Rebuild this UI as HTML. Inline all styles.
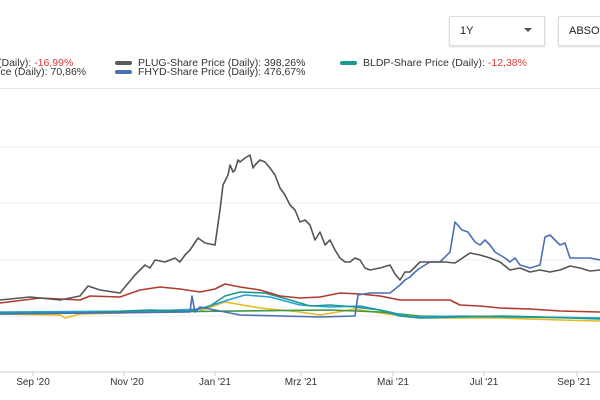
<!DOCTYPE html><html><head><style>
body{margin:0;width:600px;height:400px;overflow:hidden;background:#fff;font-family:"Liberation Sans",sans-serif;position:relative}
.t{position:absolute;font-size:10.5px;color:#333;white-space:nowrap;line-height:11px}
.r{color:#d9393a}
.sw{position:absolute;width:17px;height:4px;border-radius:2px}
.btn{position:absolute;border:1px solid #ddd;box-shadow:0 1px 2px rgba(0,0,0,.15);background:#fff;font-size:11px;color:#222}
</style></head><body>
<div class="btn" style="left:449px;top:16px;width:94px;height:28px"><span style="position:absolute;left:10px;top:8px">1Y</span><span style="position:absolute;right:12px;top:11px;border-left:4px solid transparent;border-right:4px solid transparent;border-top:4px solid #555"></span></div>
<div class="btn" style="left:558px;top:16px;width:60px;height:28px"><span style="position:absolute;left:10px;top:8px">ABSOLUT</span></div>
<div class="t" style="left:-2px;top:58px">(Daily): <span class="r">-16,99%</span></div>
<div class="t" style="left:-2px;top:67px">ice (Daily): 70,86%</div>
<div class="sw" style="left:115px;top:61px;background:#5a5a5a"></div>
<div class="t" style="left:138px;top:58px">PLUG-Share Price (Daily): 398,26%</div>
<div class="sw" style="left:115px;top:70px;background:#4a6fb5"></div>
<div class="t" style="left:138px;top:67px">FHYD-Share Price (Daily): 476,67%</div>
<div class="sw" style="left:340px;top:61px;background:#1a9a8e"></div>
<div class="t" style="left:363px;top:58px">BLDP-Share Price (Daily): <span class="r">-12,38%</span></div>
<div style="position:absolute;left:0;top:88px;width:600px;height:1px;background:#e5e5e5"></div>
<svg width="600" height="400" style="position:absolute;left:0;top:0" fill="none" stroke-linejoin="round">
<g stroke="#ececec" stroke-width="1"><line x1="0" y1="147" x2="600" y2="147"/><line x1="0" y1="203" x2="600" y2="203"/><line x1="0" y1="260" x2="600" y2="260"/><line x1="0" y1="316" x2="600" y2="316"/></g>
<line x1="0" y1="372" x2="600" y2="372" stroke="#ccc"/>
<g stroke="#ccc"><line x1="33" y1="372" x2="33" y2="376"/><line x1="124" y1="372" x2="124" y2="376"/><line x1="215" y1="372" x2="215" y2="376"/><line x1="301" y1="372" x2="301" y2="376"/><line x1="393" y1="372" x2="393" y2="376"/><line x1="484" y1="372" x2="484" y2="376"/><line x1="577" y1="372" x2="577" y2="376"/></g>
<g stroke-width="1.6">
<polyline stroke="#e8b923" points="0,314 60,315 65,318 80,314 200,311 225,302 260,308 300,312 320,315 355,309 380,313 420,318 500,318 560,320 600,321"/>
<polyline stroke="#3a9a4a" points="0,313 150,312 330,310 380,312 420,316 600,318"/>
<polyline stroke="#2a9fd6" points="0,312 150,311 200,309 228,300 245,295 270,297 300,305 330,307 360,306 390,312 410,317 460,316 600,318"/>
<polyline stroke="#1a9a8e" points="0,313 80,313 150,310 190,311 210,306 225,296 240,292 265,293 290,300 310,306 330,305 355,307 380,310 400,316 420,318 460,317 500,316 540,317 600,319"/>
<polyline stroke="#b03a2e" points="0,303 40,298 80,300 90,296 120,297 140,290 160,287 180,289 200,292 215,289 225,284 240,287 260,290 280,296 300,298 320,297 340,293 360,294 380,296 400,300 430,300 450,300 460,305 480,306 500,308 530,309 560,311 600,312"/>
<polyline stroke="#4a6fb5" points="0,314 100,313 190,312 192,296 195,312 200,307 215,310 240,315 320,317 355,316 358,295 370,293 390,293 400,285 405,280 410,277 415,272 420,268 425,265 430,262 440,262 450,252 455,222 462,230 468,232 470,235 475,242 480,245 485,240 490,245 495,252 500,255 505,258 510,262 515,258 520,265 530,268 540,265 545,237 550,235 555,240 560,245 565,243 570,258 590,258 600,260"/>
<polyline stroke="#555" points="0,300 30,297 60,300 80,296 88,286 100,290 120,293 125,287 135,275 145,265 150,268 155,260 165,262 175,258 180,262 185,255 190,250 198,238 205,243 215,245 220,210 223,185 228,175 230,165 233,172 235,170 238,160 240,162 245,158 250,155 253,168 255,165 260,160 265,162 270,168 275,175 280,188 285,195 290,205 295,210 300,222 305,220 310,225 315,240 320,232 325,245 330,240 335,250 340,258 345,262 350,262 355,258 360,260 365,268 370,270 380,268 390,265 395,274 400,280 405,272 410,272 420,262 430,262 445,262 455,263 470,253 480,255 490,258 500,262 510,270 520,268 530,272 540,270 550,272 560,270 570,266 580,268 590,271 600,270"/>
</g>
<g font-size="10" fill="#333" text-anchor="middle" font-family="Liberation Sans,sans-serif">
<text x="33" y="385">Sep '20</text><text x="127" y="385">Nov '20</text><text x="215" y="385">Jan '21</text><text x="301" y="385">Mrz '21</text><text x="393" y="385">Mai '21</text><text x="484" y="385">Jul '21</text><text x="574" y="385">Sep '21</text></g>
</svg>
</body></html>
